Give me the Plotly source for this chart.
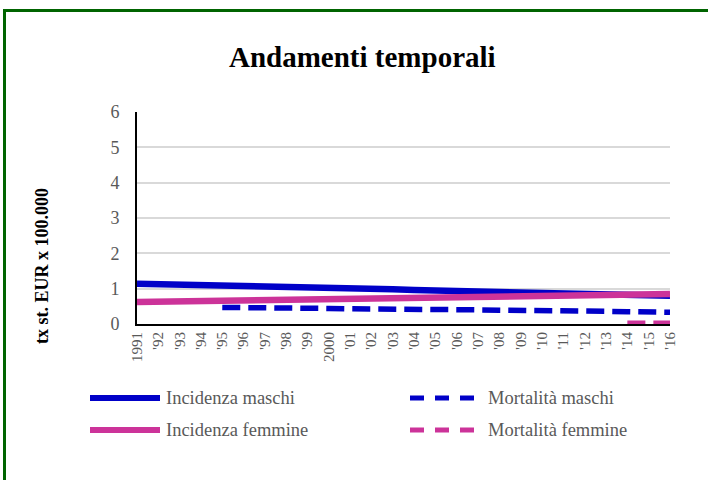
import plotly.graph_objects as go

years = ["1991", "'92", "'93", "'94", "'95", "'96", "'97", "'98", "'99", "2000",
         "'01", "'02", "'03", "'04", "'05", "'06", "'07", "'08", "'09", "'10",
         "'11", "'12", "'13", "'14", "'15", "'16"]

inc_m = [1.14, 1.13, 1.12, 1.11, 1.10, 1.08, 1.06, 1.05, 1.03, 1.02,
         1.00, 0.99, 0.98, 0.96, 0.95, 0.94, 0.93, 0.92, 0.91, 0.90,
         0.88, 0.87, 0.85, 0.83, 0.81, 0.80]
inc_f = [0.62, 0.63, 0.64, 0.65, 0.66, 0.67, 0.68, 0.69, 0.70, 0.71,
         0.72, 0.73, 0.74, 0.75, 0.76, 0.77, 0.78, 0.79, 0.80, 0.81,
         0.82, 0.83, 0.84, 0.85, 0.85, 0.85]
mort_m_years = years[4:]
mort_m = [0.47, 0.47, 0.46, 0.45, 0.44, 0.44, 0.43, 0.43, 0.42, 0.42,
          0.41, 0.40, 0.40, 0.39, 0.39, 0.38, 0.37, 0.36, 0.36, 0.35,
          0.34, 0.33]
mort_f_years = years[23:]
mort_f = [0.02, 0.01, 0.02]

series_names = ["Incidenza maschi", "Mortalità maschi", "Incidenza femmine", "Mortalità femmine"]

BLUE = "#0000C8"
PINK = "#CC3399"
serif = "Liberation Serif"
DASH = "18px,8px"

fig = go.Figure()
fig.add_trace(go.Scatter(x=years, y=inc_m, mode="lines", name=series_names[0],
                         line=dict(color=BLUE, width=6.5)))
fig.add_trace(go.Scatter(x=mort_m_years, y=mort_m, mode="lines", name=series_names[1],
                         line=dict(color=BLUE, width=5.5, dash=DASH)))
fig.add_trace(go.Scatter(x=years, y=inc_f, mode="lines", name=series_names[2],
                         line=dict(color=PINK, width=6.5)))
fig.add_trace(go.Scatter(x=mort_f_years, y=mort_f, mode="lines", name=series_names[3],
                         line=dict(color=PINK, width=5.5, dash=DASH)))

L, R, T, B = 137, 38, 112, 156
W, H = 708, 480
pw, ph = W - L - R, H - T - B

def px(x):
    return (x - L) / pw

def py(y):
    return (H - B - y) / ph

# manual legend (two columns, two rows)
leg_items = [
    (series_names[0], BLUE, None, 88, 398),
    (series_names[1], BLUE, "14px,11px", 410, 398),
    (series_names[2], PINK, None, 88, 430),
    (series_names[3], PINK, "14px,11px", 410, 430),
]
shapes = [
    dict(type="line", xref="paper", yref="paper", x0=px(3), x1=px(708),
         y0=py(10.5), y1=py(10.5), line=dict(color="#006400", width=3)),
    dict(type="line", xref="paper", yref="paper", x0=px(4.5), x1=px(4.5),
         y0=py(10), y1=py(480), line=dict(color="#006400", width=3)),
]
annotations = [
    dict(text="<b>Andamenti temporali</b>", xref="paper", yref="paper",
         x=px(362), y=py(57), showarrow=False, xanchor="center", yanchor="middle",
         font=dict(family=serif, size=29, color="black")),
    dict(text="<b>tx st. EUR x 100.000</b>", xref="paper", yref="paper",
         x=px(42), y=py(266), showarrow=False, textangle=-90,
         xanchor="center", yanchor="middle",
         font=dict(family=serif, size=18, color="black")),
]
for name, col, dash, x0, y0 in leg_items:
    if dash is None:
        shapes.append(dict(type="line", xref="paper", yref="paper",
                           x0=px(x0 + 2), x1=px(x0 + 72), y0=py(y0), y1=py(y0),
                           line=dict(color=col, width=6)))
    else:
        shapes.append(dict(type="line", xref="paper", yref="paper",
                           x0=px(x0), x1=px(x0 + 70), y0=py(y0), y1=py(y0),
                           line=dict(color=col, width=5, dash=dash)))
    annotations.append(dict(text=name, xref="paper", yref="paper",
                            x=px(x0 + 76), y=py(y0), showarrow=False,
                            xanchor="left", yanchor="middle",
                            font=dict(family=serif, size=18.5, color="#595959")))

fig.update_layout(
    width=W, height=H,
    margin=dict(l=L, r=R, t=T, b=B),
    paper_bgcolor="white", plot_bgcolor="white",
    font=dict(family=serif, color="#595959"),
    showlegend=False,
    xaxis=dict(type="category", tickangle=-90, showgrid=False, showline=True,
               linecolor="black", linewidth=2, ticks="",
               tickfont=dict(family=serif, size=15, color="#595959")),
    yaxis=dict(range=[0, 6], dtick=1, showgrid=True, gridcolor="#d9d9d9", gridwidth=2,
               showline=True, linecolor="black", linewidth=2, zeroline=False,
               ticks="", ticklabelstandoff=12,
               tickfont=dict(family=serif, size=18, color="#595959")),
    annotations=annotations,
    shapes=shapes,
)

fig.write_html("out.html", config={"displayModeBar": False},
               post_script="document.body.style.margin='0';document.body.style.overflow='hidden';")
